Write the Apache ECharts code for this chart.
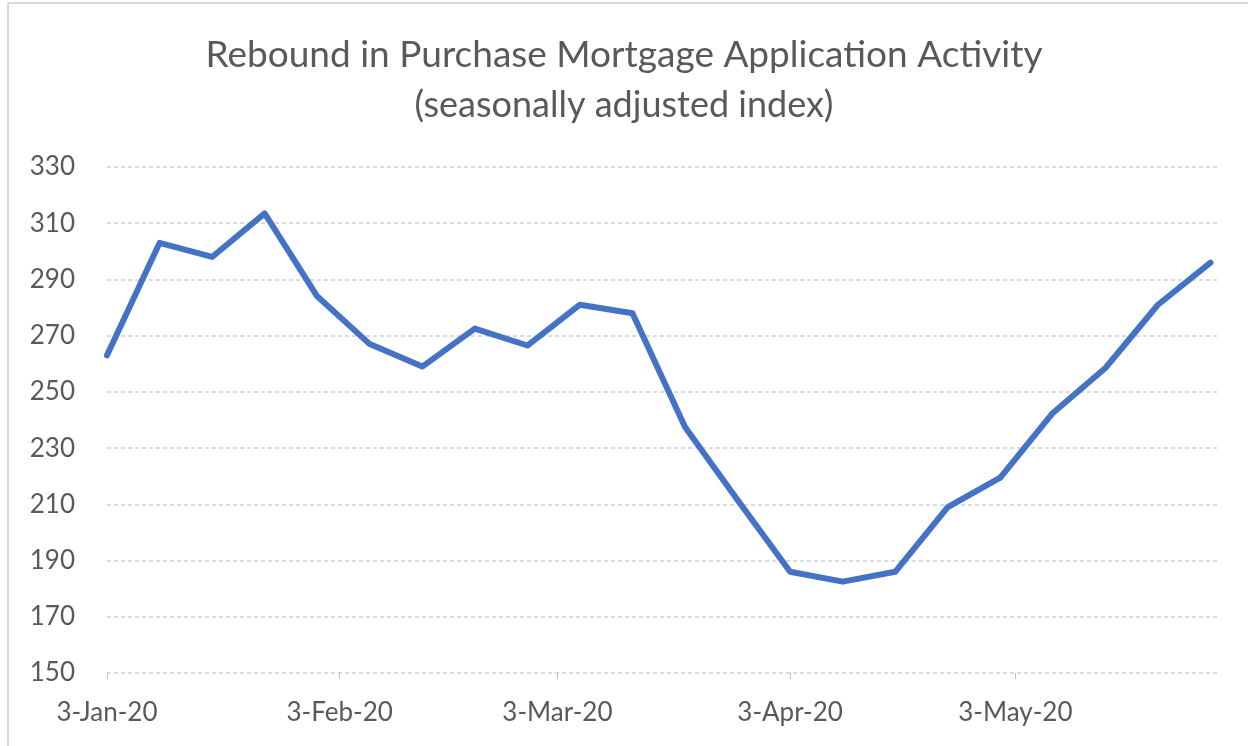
<!DOCTYPE html>
<html>
<head>
<meta charset="utf-8">
<script src="https://cdn.jsdelivr.net/npm/echarts@6/dist/echarts.min.js"></script>
<style>
html,body{margin:0;padding:0;background:#fff;}
#chart{width:1248px;height:746px;}
</style>
</head>
<body>
<div id="chart"></div>
<script>
// Data (weekly, week ending Friday)
const dates = ['2020-01-03','2020-01-10','2020-01-17','2020-01-24','2020-01-31','2020-02-07','2020-02-14','2020-02-21','2020-02-28','2020-03-06','2020-03-13','2020-03-20','2020-03-27','2020-04-03','2020-04-10','2020-04-17','2020-04-24','2020-05-01','2020-05-08','2020-05-15','2020-05-22','2020-05-29'];
const indexValues = [263, 303, 298, 313.5, 284, 267, 259, 272.5, 266.5, 281, 278, 237.5, 211.5, 186, 182.5, 186, 209, 219.5, 242.5, 258.5, 281, 296];
const xTickDates = ['2020-01-03','2020-02-03','2020-03-03','2020-04-03','2020-05-03'];
const xMinDate = '2020-01-03';
const xMaxDate = '2020-05-30';
const titleText = 'Rebound in Purchase Mortgage Application Activity';
const subtitleText = '(seasonally adjusted index)';

const months = ['Jan','Feb','Mar','Apr','May','Jun','Jul','Aug','Sep','Oct','Nov','Dec'];
const DAY = 86400000;
function toDate(s){ const p = s.split('-').map(Number); return Date.UTC(p[0], p[1]-1, p[2]); }
const base = toDate(xMinDate);
function toDay(s){ return Math.round((toDate(s) - base) / DAY); }
function fmt(day){ const d = new Date(base + Math.round(day) * DAY); return d.getUTCDate() + '-' + months[d.getUTCMonth()] + '-' + String(d.getUTCFullYear()).slice(2); }

const FONT = 'Lato';
const TXT = '#595959';
const tickDays = xTickDates.map(toDay);

const chart = echarts.init(document.getElementById('chart'));
chart.setOption({
  animation: false,
  backgroundColor: '#ffffff',
  title: [{
    text: titleText,
    left: 'center', top: 32,
    textStyle: { fontFamily: FONT, fontSize: 37, fontWeight: 'normal', color: TXT }
  },{
    text: subtitleText,
    left: 'center', top: 82,
    textStyle: { fontFamily: FONT, fontSize: 36, fontWeight: 'normal', color: TXT }
  }],
  graphic: [
    { type: 'line', shape: { x1: 8, y1: 3, x2: 1248, y2: 3 }, style: { stroke: '#d9d9d9', lineWidth: 2 } },
    { type: 'line', shape: { x1: 8, y1: 3, x2: 8, y2: 746 }, style: { stroke: '#d9d9d9', lineWidth: 2 } }
  ],
  grid: { left: 107, right: 30, top: 167, bottom: 73, containLabel: false },
  xAxis: {
    type: 'value',
    min: toDay(xMinDate),
    max: toDay(xMaxDate),
    axisLine: { show: false },
    axisTick: { show: true, customValues: tickDays, length: 6, lineStyle: { color: '#bfbfbf', width: 1 } },
    axisLabel: { customValues: tickDays, formatter: v => fmt(v), fontFamily: FONT, fontSize: 26, color: TXT, margin: 27 },
    splitLine: { show: false }
  },
  yAxis: {
    type: 'value',
    min: 150, max: 330, interval: 20,
    axisLine: { show: false },
    axisTick: { show: false },
    axisLabel: { fontFamily: FONT, fontSize: 26, color: TXT, margin: 32 },
    splitLine: { show: true, lineStyle: { color: '#d0d0d0', width: 1.5, type: [4, 3] } }
  },
  series: [{
    type: 'line',
    data: dates.map((d, i) => [toDay(d), indexValues[i]]),
    showSymbol: false,
    lineStyle: { color: '#4472C4', width: 6, join: 'round', cap: 'round' },
    itemStyle: { color: '#4472C4' }
  }]
});
</script>
</body>
</html>
